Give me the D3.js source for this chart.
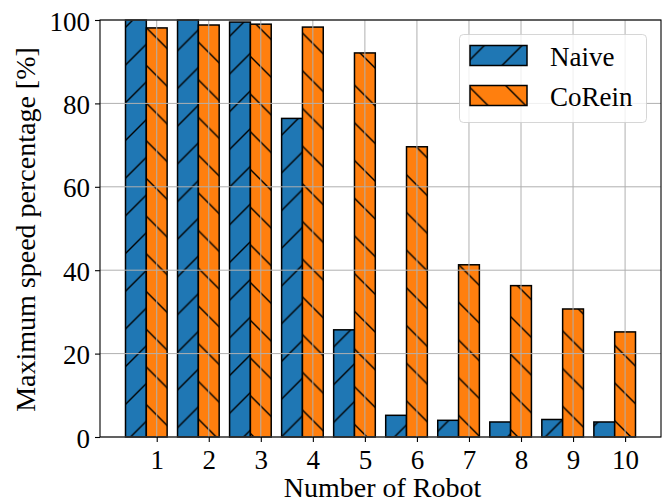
<!DOCTYPE html>
<html>
<head>
<meta charset="utf-8">
<script src="https://cdn.jsdelivr.net/npm/d3@7"></script>
</head>
<body style="margin:0">
<svg id="chart" width="666" height="502" font-family="Liberation Serif"></svg>
<script>
// Robot counts on the x axis
const robots = [1, 2, 3, 4, 5, 6, 7, 8, 9, 10];
// Maximum speed percentage per method
const naive  = [100, 100, 99.5, 76.4, 25.7, 5.2, 4.0, 3.6, 4.2, 3.6];
const corein = [98.1, 98.8, 99.0, 98.3, 92.1, 69.6, 41.3, 36.3, 30.7, 25.2];
const yTicks = [0, 20, 40, 60, 80, 100];
const seriesNames = ["Naive", "CoRein"];

const m = { left: 100, right: 661, top: 20, bottom: 437 };
const barW = 0.4;
const FONT = '"Liberation Serif"';

const svg = d3.select("#chart");

const x = d3.scaleLinear().domain([-0.09, 10.69]).range([m.left, m.right]);
const y = d3.scaleLinear().domain([0, 100]).range([m.bottom, m.top]);

const colors = ["#1f77b4", "#ff7f0e"];
const P = 37.7; // hatch repeat in px

// Hatch patterns: "/" for Naive and "\" for CoRein
const defs = svg.append("defs");
function hatch(id, color, forward, ox, oy) {
  const p = defs.append("pattern")
    .attr("id", id)
    .attr("patternUnits", "userSpaceOnUse")
    .attr("x", ox).attr("y", oy)
    .attr("width", P).attr("height", P);
  p.append("rect").attr("width", P).attr("height", P).attr("fill", color);
  const segs = forward
    ? [[-2, P + 2, P + 2, -2], [-2, 2, 2, -2], [P - 2, P + 2, P + 2, P - 2]]
    : [[-2, -2, P + 2, P + 2], [P - 2, -2, P + 2, 2], [-2, P - 2, 2, P + 2]];
  segs.forEach(s => p.append("line")
    .attr("x1", s[0]).attr("y1", s[1]).attr("x2", s[2]).attr("y2", s[3])
    .attr("stroke", "#000").attr("stroke-width", 1.4));
}
hatch("hatch-naive", colors[0], true, 2.0, 0);
hatch("hatch-corein", colors[1], false, 0, 32.2);
const fills = ["url(#hatch-naive)", "url(#hatch-corein)"];

// Bars: Naive sits left of each tick, CoRein centred on it
const series = [
  { name: seriesNames[0], values: naive,  offset: -barW, fill: fills[0] },
  { name: seriesNames[1], values: corein, offset: 0,     fill: fills[1] }
];

series.forEach(s => {
  svg.append("g").selectAll("rect")
    .data(robots.map((r, i) => ({ r, v: s.values[i] })))
    .join("rect")
    .attr("x", d => x(d.r + s.offset - barW / 2))
    .attr("width", d => x(d.r + s.offset + barW / 2) - x(d.r + s.offset - barW / 2))
    .attr("y", d => y(d.v))
    .attr("height", d => y(0) - y(d.v))
    .attr("fill", s.fill)
    .attr("stroke", "#000")
    .attr("stroke-width", 1.5);
});

// Grid over the bars
const grid = svg.append("g").attr("stroke", "#b0b0b0").attr("stroke-width", 1);
grid.selectAll(".gx").data(robots).join("line")
  .attr("x1", d => x(d)).attr("x2", d => x(d))
  .attr("y1", m.top).attr("y2", m.bottom);
grid.selectAll(".gy").data(yTicks).join("line")
  .attr("x1", m.left).attr("x2", m.right)
  .attr("y1", d => y(d)).attr("y2", d => y(d));

// Axes
const xAxis = d3.axisBottom(x).tickValues(robots).tickSize(5).tickPadding(6).tickFormat(d3.format("d"));
const yAxis = d3.axisLeft(y).tickValues(yTicks).tickSize(5).tickPadding(5);

const gx = svg.append("g").attr("transform", `translate(0,${m.bottom})`).call(xAxis);
const gy = svg.append("g").attr("transform", `translate(${m.left},0)`).call(yAxis);
[gx, gy].forEach(g => {
  g.attr("font-family", "Liberation Serif").attr("font-size", 27);
  g.select(".domain").remove();
  g.selectAll(".tick line").attr("stroke", "#000").attr("stroke-width", 1.1);
  g.selectAll(".tick text")
    .attr("font-family", "Liberation Serif")
    .style("font-family", FONT)
    .style("font-size", "27px").attr("fill", "#000");
});
gx.selectAll(".tick text").attr("dy", null).attr("y", 32);
gy.selectAll(".tick text").attr("dy", null).attr("y", 10);

// Frame
svg.append("rect")
  .attr("x", m.left).attr("y", m.top)
  .attr("width", m.right - m.left).attr("height", m.bottom - m.top)
  .attr("fill", "none").attr("stroke", "#000").attr("stroke-width", 1.1);

// Axis titles
svg.append("text")
  .attr("x", (m.left + m.right) / 2 + 2).attr("y", 497)
  .attr("text-anchor", "middle")
  .attr("font-family", "Liberation Serif")
  .style("font-family", FONT).style("font-size", "28px")
  .text("Number of Robot");
svg.append("text")
  .attr("transform", `translate(35,${(m.top + m.bottom) / 2 + 1}) rotate(-90)`)
  .attr("text-anchor", "middle")
  .attr("font-family", "Liberation Serif")
  .style("font-family", FONT).style("font-size", "28px")
  .text("Maximum speed percentage [%]");

// Legend
const lg = svg.append("g");
lg.append("rect")
  .attr("x", 459.5).attr("y", 34.5).attr("width", 187).attr("height", 88)
  .attr("rx", 4).attr("ry", 4)
  .attr("fill", "#fff").attr("fill-opacity", 0.8)
  .attr("stroke", "#cccccc").attr("stroke-opacity", 0.8).attr("stroke-width", 1);
series.forEach((s, i) => {
  const yy = 45.5 + i * 40;
  lg.append("rect")
    .attr("x", 470).attr("y", yy).attr("width", 57).attr("height", 20)
    .attr("fill", s.fill).attr("stroke", "#000").attr("stroke-width", 1.5);
  lg.append("text")
    .attr("x", 550).attr("y", yy + 20)
    .attr("font-family", "Liberation Serif")
    .style("font-family", FONT).style("font-size", "27px")
    .text(s.name);
});
</script>
</body>
</html>
